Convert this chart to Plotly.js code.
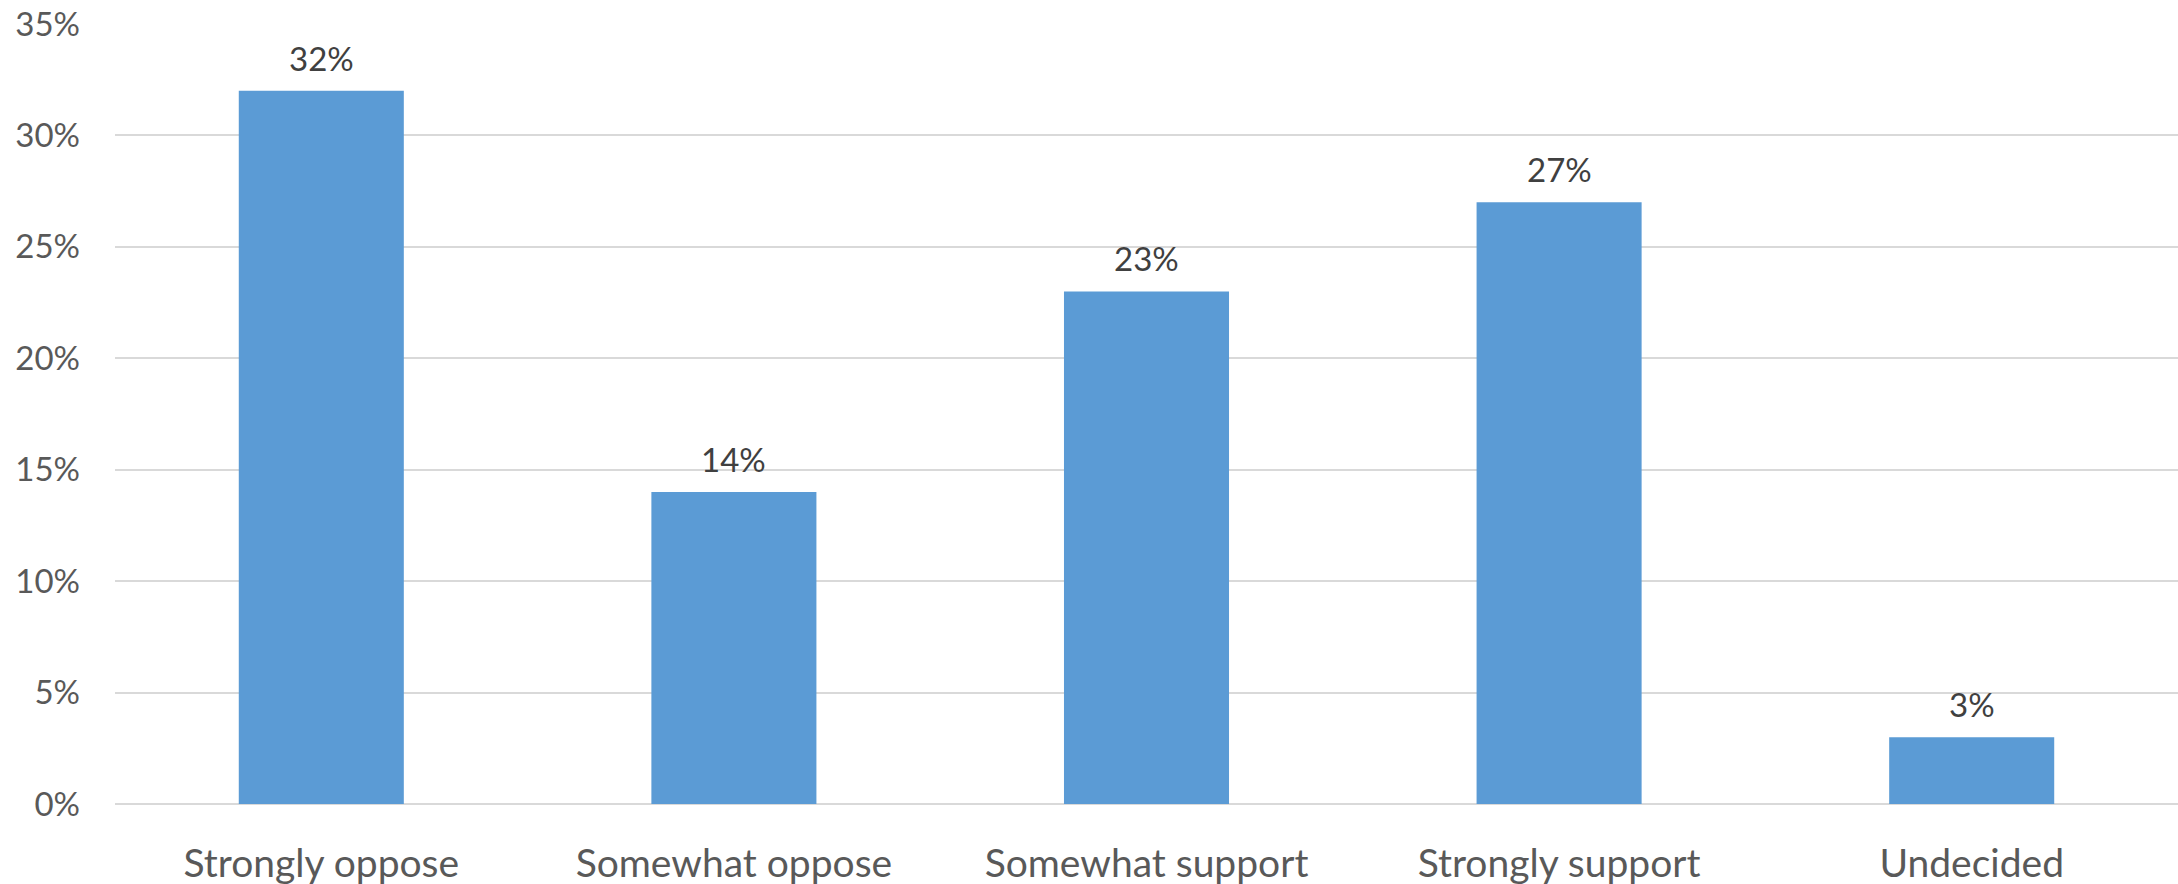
<!DOCTYPE html>
<html>
<head>
<meta charset="utf-8">
<script src="https://cdn.plot.ly/plotly-3.0.1.min.js"></script>
<style>
  html, body { margin: 0; padding: 0; background: #ffffff; }
  #chart { width: 2178px; height: 884px; }
</style>
</head>
<body>
<div id="chart"></div>
<script>
const categories = ["Strongly oppose", "Somewhat oppose", "Somewhat support", "Strongly support", "Undecided"];
const values = [32, 14, 23, 27, 3];
const tickVals = [0, 5, 10, 15, 20, 25, 30, 35];
const tickText = ["0%", "5%", "10%", "15%", "20%", "25%", "30%", "35%"];

const trace = {
  type: "bar",
  x: categories,
  y: values,
  width: 0.4,
  marker: { color: "#5B9BD5" },
  hoverinfo: "skip"
};

const annotations = categories.map((c, i) => ({
  x: c,
  y: values[i],
  xref: "x",
  yref: "y",
  text: values[i] + "%",
  showarrow: false,
  yanchor: "bottom",
  yshift: 11,
  font: { family: "Lato, sans-serif", size: 33, color: "#404040" }
}));

const layout = {
  width: 2178,
  height: 884,
  margin: { l: 115, r: 0, t: 24, b: 80 },
  paper_bgcolor: "#ffffff",
  plot_bgcolor: "#ffffff",
  showlegend: false,
  bargap: 0.6,
  xaxis: {
    type: "category",
    tickfont: { family: "Lato, sans-serif", size: 39, color: "#595959" },
    ticks: "",
    showgrid: false,
    showline: false,
    ticklabelstandoff: 33
  },
  yaxis: {
    range: [0, 35],
    tickvals: tickVals,
    ticktext: tickText,
    tickfont: { family: "Lato, sans-serif", size: 33, color: "#595959" },
    showgrid: true,
    gridcolor: "#D9D9D9",
    gridwidth: 2,
    zeroline: true,
    zerolinecolor: "#D9D9D9",
    zerolinewidth: 2,
    showline: false,
    ticks: "",
    ticklabelstandoff: 34
  },
  annotations: annotations
};

Plotly.newPlot("chart", [trace], layout, { displayModeBar: false, staticPlot: true });
</script>
</body>
</html>
